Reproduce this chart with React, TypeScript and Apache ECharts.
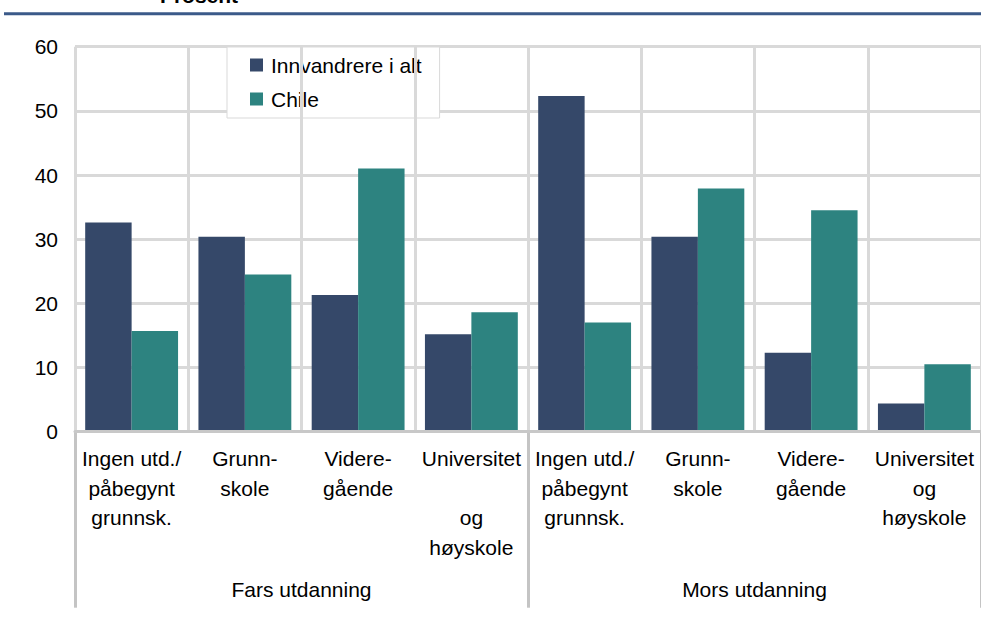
import React, { useEffect, useRef } from "react";
import * as echarts from "echarts";

const categories = [
  "Ingen utd./\npåbegynt\ngrunnsk.",
  "Grunn-\nskole",
  "Videre-\ngående",
  "Universitet\n\nog\nhøyskole",
  "Ingen utd./\npåbegynt\ngrunnsk.",
  "Grunn-\nskole",
  "Videre-\ngående",
  "Universitet\nog\nhøyskole",
];
const groups = ["Fars utdanning", "Mors utdanning"];
const seriesNames = ["Innvandrere i alt", "Chile"];
const innvandrere = [32.6, 30.4, 21.3, 15.2, 52.3, 30.4, 12.3, 4.4];
const chile = [15.7, 24.5, 41.0, 18.6, 17.0, 37.9, 34.5, 10.5];
const yTicks = { min: 0, max: 60, interval: 10 };

const FONT = '"Liberation Sans", Arial, sans-serif';

export default function App() {
  const ref = useRef<HTMLDivElement>(null);
  useEffect(() => {
    const chart = echarts.init(ref.current!, null, { renderer: "svg" });
    chart.setOption({
      animation: false,
      backgroundColor: "#fff",
      textStyle: { fontFamily: FONT },
      grid: { left: 75, top: 46.7, width: 908, height: 385 },
      legend: {
        orient: "vertical",
        left: 227,
        top: 47,
        icon: "rect",
        itemWidth: 13,
        itemHeight: 13,
        itemGap: 10,
        padding: [6, 18, 7, 23],
        backgroundColor: "#fff",
        borderColor: "#d9d9d9",
        borderWidth: 1,
        textStyle: { fontSize: 21, lineHeight: 24, color: "#000", fontFamily: FONT, padding: [0, 0, 0, 3] },
        data: seriesNames,
      },
      xAxis: [
        {
          type: "category",
          data: categories,
          position: "bottom",
          axisLine: { show: true, lineStyle: { color: "#c8c8c8", width: 3 } },
          axisTick: { show: false },
          splitLine: { show: true, lineStyle: { color: "#d9d9d9", width: 3 } },
          axisLabel: {
            interval: 0,
            margin: 12.5,
            fontSize: 21,
            lineHeight: 29.5,
            color: "#000",
            fontFamily: FONT,
            align: "center",
          },
          z: 5,
        },
        {
          type: "category",
          data: groups,
          position: "bottom",
          axisLine: { show: false },
          axisTick: { show: true, length: 176, lineStyle: { color: "#c4c4c4", width: 3 } },
          splitLine: { show: false },
          axisLabel: {
            interval: 0,
            margin: 146,
            fontSize: 21,
            lineHeight: 24,
            color: "#000",
            fontFamily: FONT,
          },
        },
      ],
      yAxis: {
        type: "value",
        min: yTicks.min,
        max: yTicks.max,
        interval: yTicks.interval,
        axisLine: { show: false },
        axisTick: { show: false },
        splitLine: { show: true, lineStyle: { color: "#d9d9d9", width: 3 } },
        axisLabel: { fontSize: 21, color: "#000", margin: 17, fontFamily: FONT },
      },
      series: [
        {
          name: seriesNames[0],
          type: "bar",
          data: innvandrere,
          itemStyle: { color: "#354869" },
          barGap: "0%",
          barCategoryGap: "18%",
        },
        {
          name: seriesNames[1],
          type: "bar",
          data: chile,
          itemStyle: { color: "#2d8380" },
          barGap: "0%",
          barCategoryGap: "18%",
        },
      ],
      graphic: [
        {
          type: "line",
          shape: { x1: 4, y1: 13.7, x2: 981, y2: 13.7 },
          style: { stroke: "#3b5a89", lineWidth: 3 },
        },
        {
          type: "text",
          x: 199,
          y: 6,
          style: {
            text: "Prosent",
            font: 'bold 21px "Liberation Sans", Arial, sans-serif',
            fill: "#000",
            textAlign: "center",
            textVerticalAlign: "bottom",
          },
        },
      ],
    });
    return () => chart.dispose();
  }, []);
  return (
    <div
      ref={ref}
      style={{ position: "absolute", left: 0, top: 0, width: 981, height: 619 }}
    />
  );
}
